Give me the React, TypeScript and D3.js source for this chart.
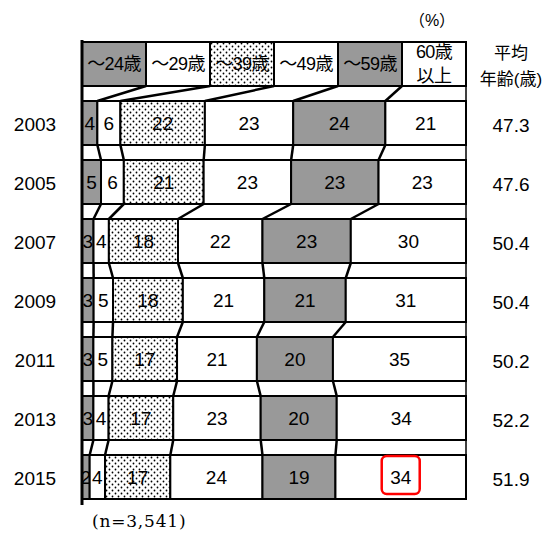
import React from 'react';
import * as d3 from 'd3';

// survey years (rows) and age groups (segments)
const years = ['2003', '2005', '2007', '2009', '2011', '2013', '2015'];
const ageGroups = [['～24歳'], ['～29歳'], ['～39歳'], ['～49歳'], ['～59歳'], ['60歳', '以上']];

// share of each age group, %
const y2003 = [4, 6, 22, 23, 24, 21];
const y2005 = [5, 6, 21, 23, 23, 23];
const y2007 = [3, 4, 18, 22, 23, 30];
const y2009 = [3, 5, 18, 21, 21, 31];
const y2011 = [3, 5, 17, 21, 20, 35];
const y2013 = [3, 4, 17, 23, 20, 34];
const y2015 = [2, 4, 17, 24, 19, 34];
const shares = [y2003, y2005, y2007, y2009, y2011, y2013, y2015];

// average age
const avgAge = ['47.3', '47.6', '50.4', '50.4', '50.2', '52.2', '51.9'];

const W = 557;
const H = 533;
const left = 82;
const right = 466;
const GRAY = '#999999';
const fills = [GRAY, '#ffffff', 'url(#dots)', '#ffffff', GRAY, '#ffffff'];
const FONT = '"Liberation Sans", "Noto Sans CJK JP", sans-serif';

export default function App() {
  const rows = ['header', ...years];
  const y = d3.scaleBand().domain(rows).range([42, 499]).paddingInner(15 / 59);
  const bw = y.bandwidth();

  // boundaries (cumulative) per row, header is split evenly
  const rowEdges: number[][] = [
    d3.range(7).map(i => d3.scaleLinear().domain([0, 6]).range([left, right])(i)),
    ...shares.map(vals => {
      const total = d3.sum(vals);
      const x = d3.scaleLinear().domain([0, total]).range([left, right]);
      return [0, ...d3.cumsum(vals)].map(v => x(v));
    }),
  ];

  const strips = rows.slice(0, -1).map((r, i) => {
    const top = (y(r) as number) + bw;
    const bottom = y(rows[i + 1]) as number;
    return { top, bottom, upper: rowEdges[i], lower: rowEdges[i + 1] };
  });

  const hlRow = years.indexOf('2015');
  const hlEdges = rowEdges[hlRow + 1];
  const hlCx = (hlEdges[5] + hlEdges[6]) / 2;
  const hlCy = (y('2015') as number) + bw / 2;

  return (
    <div style={{ position: 'fixed', left: 0, top: 0 }}>
      <svg width={W} height={H} style={{ display: 'block', background: '#fff' }} fontFamily={FONT}>
        <defs>
          <pattern id="dots" width={6} height={6} patternUnits="userSpaceOnUse">
            <rect width={6} height={6} fill="#fff" />
            <circle cx={1.5} cy={1.5} r={0.9} fill="#000" />
            <circle cx={4.5} cy={4.5} r={0.9} fill="#000" />
          </pattern>
        </defs>

        <text x={432} y={20} dy="0.36em" textAnchor="middle" fontSize={16}>（%）</text>

        {/* strips with connector lines */}
        {strips.map((s, i) => (
          <g key={'s' + i}>
            <rect x={left} y={s.top} width={right - left} height={s.bottom - s.top}
              fill="#fff" stroke="#000" strokeWidth={1.5} />
            {s.upper.slice(1, -1).map((xu, j) => (
              <line key={j} x1={xu} y1={s.top} x2={s.lower[j + 1]} y2={s.bottom}
                stroke="#000" strokeWidth={2.5} />
            ))}
          </g>
        ))}

        {/* header row */}
        {ageGroups.map((lines, i) => {
          const x0 = rowEdges[0][i];
          const x1 = rowEdges[0][i + 1];
          const cy = (y('header') as number) + bw / 2;
          return (
            <g key={'h' + i}>
              <rect x={x0} y={y('header')} width={x1 - x0} height={bw}
                fill={fills[i]} stroke="#000" strokeWidth={2} />
              {lines.map((t, k) => (
                <text key={k} x={(x0 + x1) / 2} y={cy + (k - (lines.length - 1) / 2) * 24}
                  dy="0.36em" textAnchor="middle" fontSize={18} letterSpacing={-0.6}>{t}</text>
              ))}
            </g>
          );
        })}
        <text x={511} y={53} dy="0.36em" textAnchor="middle" fontSize={17}>平均</text>
        <text x={511} y={79} dy="0.36em" textAnchor="middle" fontSize={17}>年齢(歳)</text>

        {/* data rows */}
        {years.map((yr, r) => {
          const edges = rowEdges[r + 1];
          const y0 = y(yr) as number;
          const cy = y0 + bw / 2;
          return (
            <g key={yr}>
              {shares[r].map((v, i) => (
                <g key={i}>
                  <rect x={edges[i]} y={y0} width={edges[i + 1] - edges[i]} height={bw}
                    fill={fills[i]} stroke="#000" strokeWidth={2} />
                  <text x={(edges[i] + edges[i + 1]) / 2} y={cy} dy="0.36em"
                    textAnchor="middle" fontSize={19}>{v}</text>
                </g>
              ))}
              <text x={35} y={cy + 1} dy="0.36em" textAnchor="middle" fontSize={19}>{yr}</text>
              <text x={511} y={cy + 2} dy="0.36em" textAnchor="middle" fontSize={19}>{avgAge[r]}</text>
            </g>
          );
        })}

        <rect x={hlCx - 19} y={hlCy - 21} width={38} height={38} rx={5}
          fill="none" stroke="#ff0000" strokeWidth={2.5} />

        <line x1={left} y1={40} x2={left} y2={505} stroke="#000" strokeWidth={3} />

        <text x={92} y={527} fontFamily='"DejaVu Serif", serif' fontSize={17} letterSpacing={0.8}>
          (n=3,541)
        </text>
      </svg>
    </div>
  );
}
